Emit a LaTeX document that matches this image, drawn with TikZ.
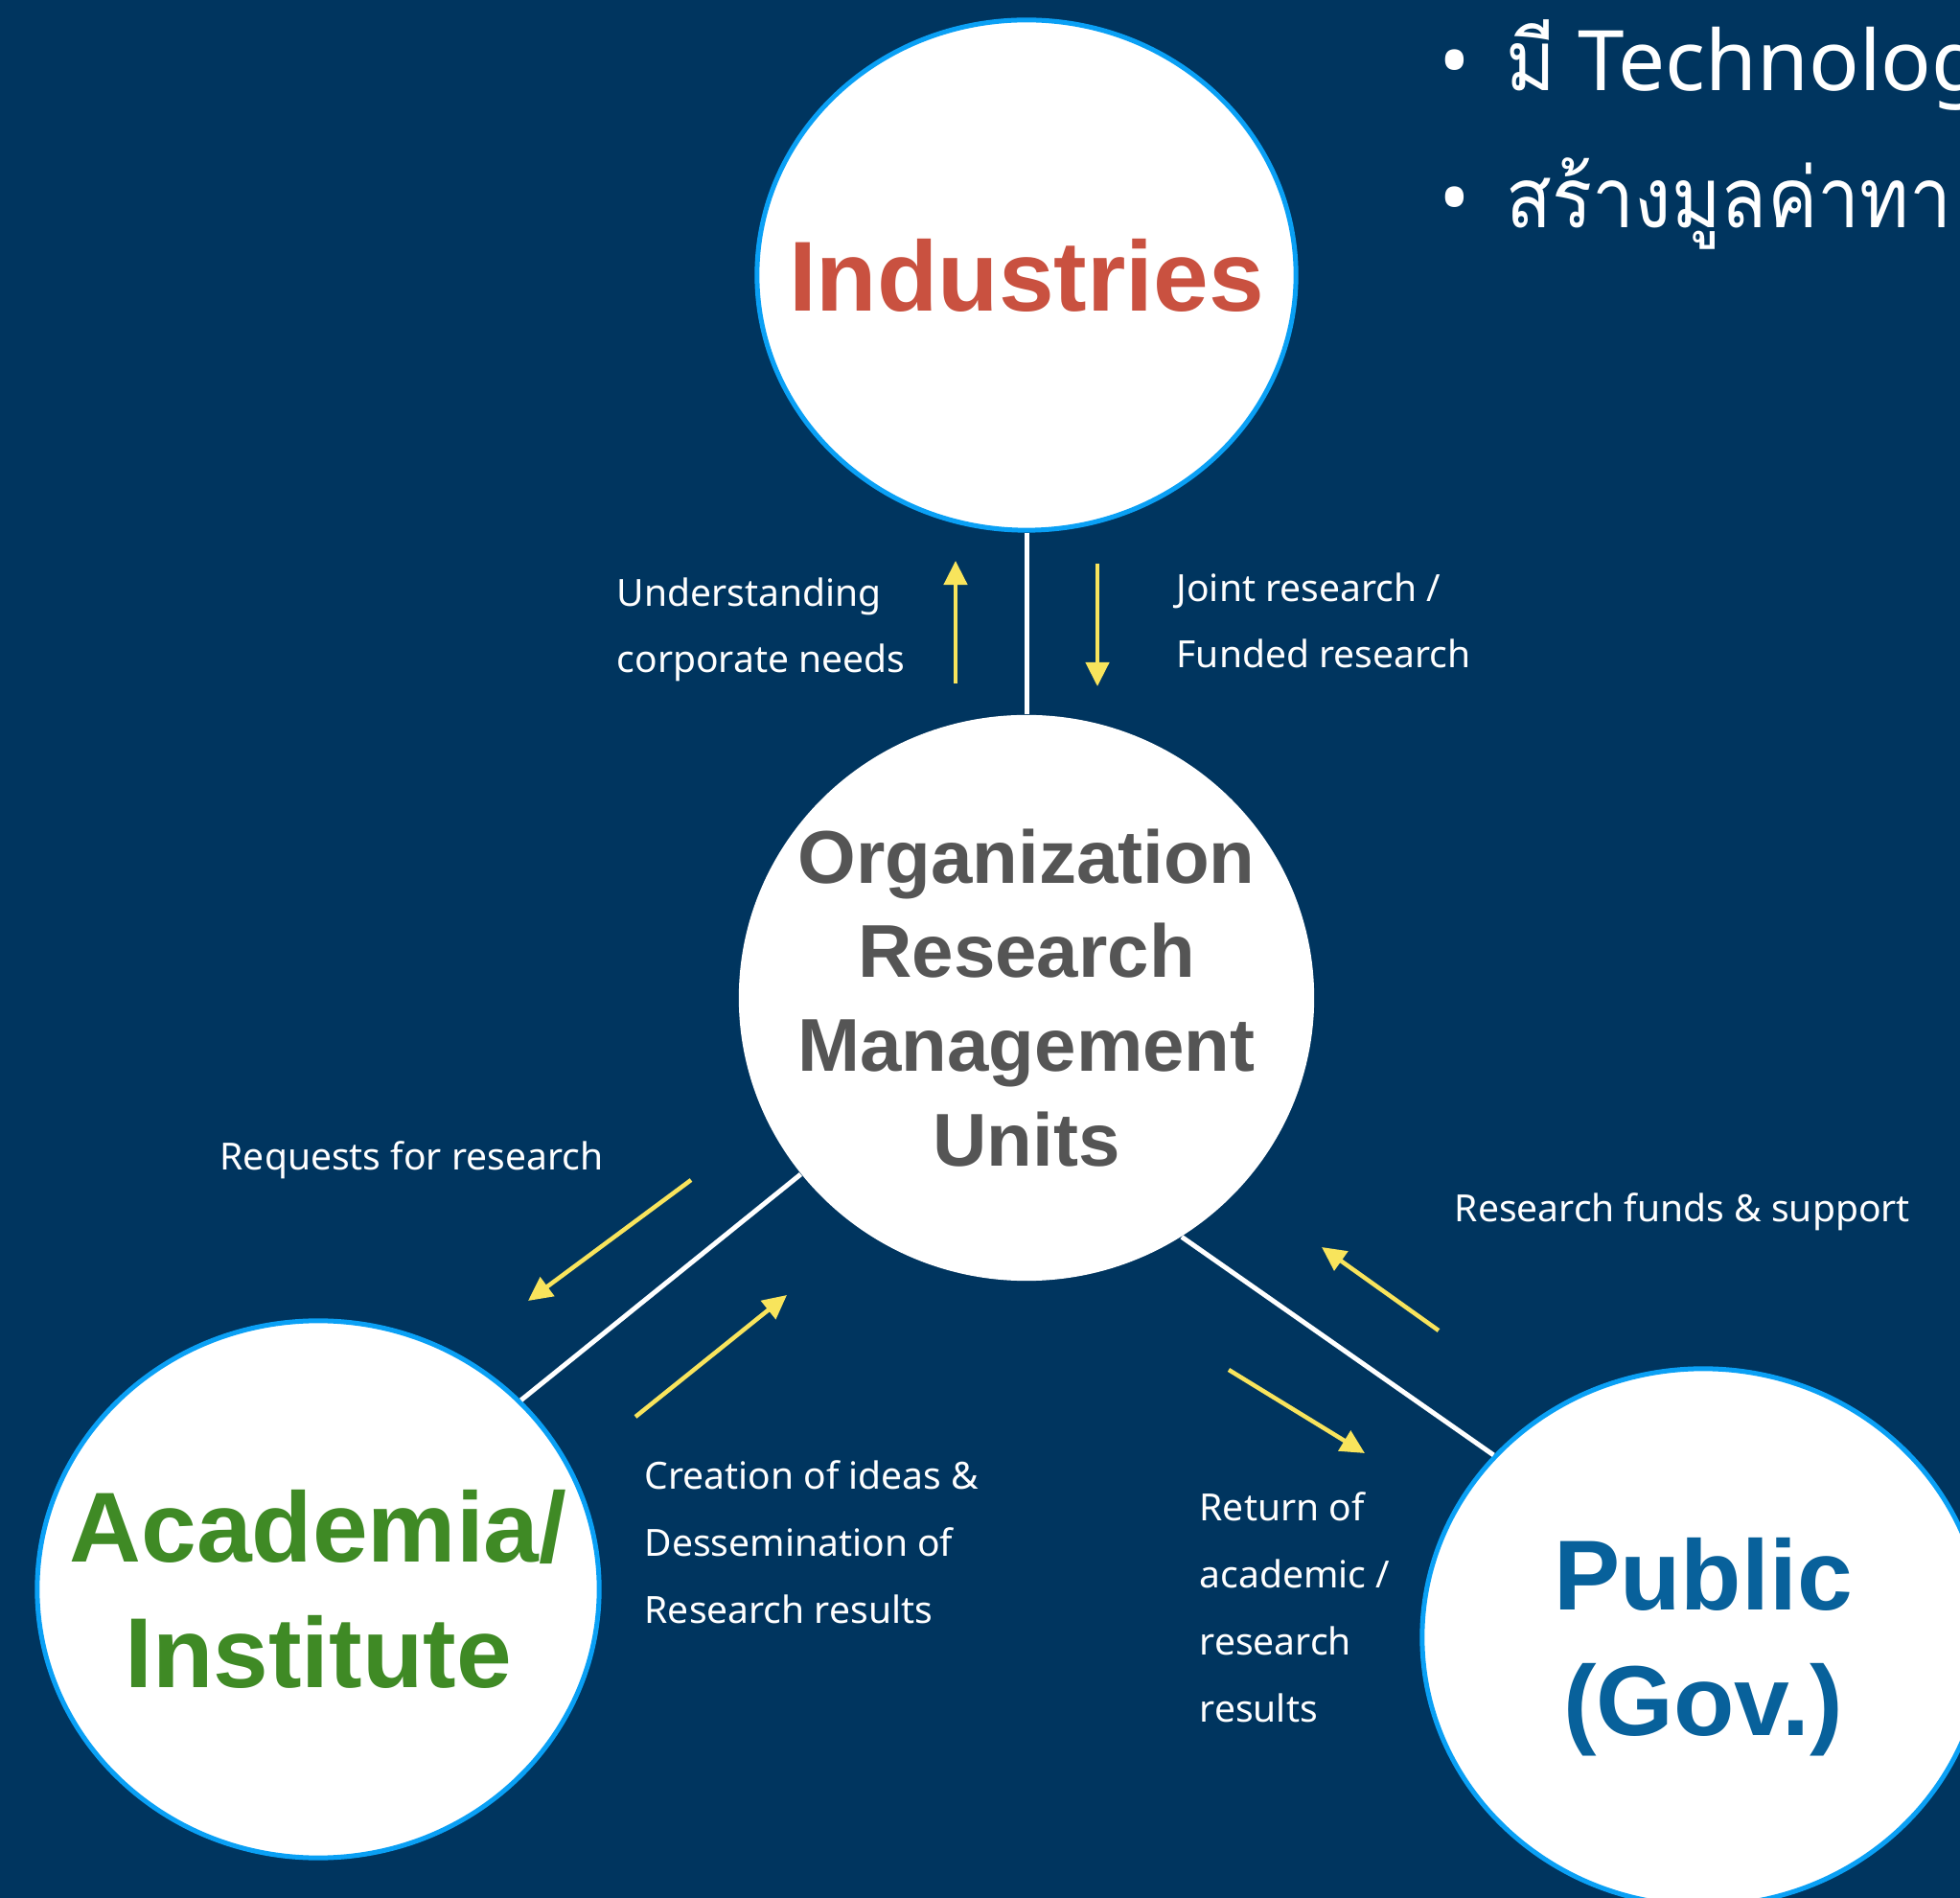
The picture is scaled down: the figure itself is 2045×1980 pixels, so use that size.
\documentclass[tikz,border=0pt]{standalone}
\usepackage{xcolor}
\usepackage{fontspec}
\setmainfont{Noto Sans}
\newfontfamily\headfont{Liberation Sans}
\newfontfamily\thaifont[Script=Thai, FakeStretch=0.9]{Loma}
\usepackage{tikz}
\usetikzlibrary{arrows.meta,positioning,shapes.geometric}

\definecolor{navy}{HTML}{00355F}
\definecolor{ringblue}{HTML}{0AA0F5}
\definecolor{indred}{HTML}{C95140}
\definecolor{acadgreen}{HTML}{3F8A25}
\definecolor{pubblue}{HTML}{08619B}
\definecolor{hubgray}{HTML}{555555}
\definecolor{flowyellow}{HTML}{F8E45C}

\begin{document}
\begin{tikzpicture}[
  x=0.01cm, y=-0.01cm,
  party/.style={ellipse, draw=ringblue, line width=0.05cm, fill=white, inner sep=0pt, minimum width=5.86cm, minimum height=5.6cm},
  partytext/.style={align=center, inner sep=0pt, font=\headfont\bfseries\fontsize{29.5pt}{37.3pt}\selectfont},
  hub/.style={ellipse, fill=white, inner sep=0pt, minimum width=6cm, minimum height=5.9cm},
  hubtext/.style={align=center, inner sep=0pt, text=hubgray, font=\headfont\bfseries\fontsize{22.2pt}{27.9pt}\selectfont},
  tie/.style={draw=white, line width=0.05cm},
  flow/.style={draw=flowyellow, line width=0.045cm, -{Triangle[length=0.25cm, width=0.24cm]}},
  note/.style={anchor=base west, inner sep=0pt, align=left, text=white, font=\fontsize{11.1pt}{19.9pt}\selectfont},
  headline/.style={anchor=base west, inner sep=0pt, text=white, font=\fontsize{24.8pt}{30pt}\selectfont}
]
\clip (0,0) rectangle (2045,1980);
\fill[navy] (0,0) rectangle (2045,1980);

\node[party, minimum width=5.62cm, minimum height=5.32cm, label={[partytext, text=indred]center:Industries}] (ind) at (1071,287) {};
\node[hub, label={[hubtext]center:{Organization\\Research\\Management\\Units}}] (core) at (1071,1041) {};
\node[party, label={[partytext, text=acadgreen]center:{Academia/\\Institute}}] (acad) at (332,1658) {};
\node[party, label={[partytext, text=pubblue, yshift=-0.1cm]center:{Public\\(Gov.)}}] (pub) at (1777,1708) {};

\draw[tie] (ind.south) -- (core.north);
\draw[tie] (acad.43) -- (core.218);
\draw[tie] (pub.139) -- (core.303);

\coordinate (up-s) at (997,713);
\coordinate (up-e) at (997,585);
\coordinate (dn-s) at (1145,588);
\coordinate (dn-e) at (1145,716);
\coordinate (rq-s) at (721,1231);
\coordinate (rq-e) at (551,1357);
\coordinate (cr-s) at (663,1478);
\coordinate (cr-e) at (821,1351);
\coordinate (fd-s) at (1501,1388);
\coordinate (fd-e) at (1379,1301);
\coordinate (rt-s) at (1282,1429);
\coordinate (rt-e) at (1424,1516);

\draw[flow] (up-s) -- (up-e);
\draw[flow] (dn-s) -- (dn-e);
\draw[flow] (rq-s) -- (rq-e);
\draw[flow] (cr-s) -- (cr-e);
\draw[flow] (fd-s) -- (fd-e);
\draw[flow] (rt-s) -- (rt-e);

\node[note] (needs) at (643,702) {Understanding\\corporate needs};
\node[note] (joint) at (1227,697) {Joint research /\\Funded research};
\node[note] (requests) at (229,1221) {Requests for research};
\node[note] (creation) at (672,1693) {Creation of ideas \&\\Dessemination of\\Research results};
\node[note] (funds) at (1517,1275) {Research funds \& support};
\node[note] (return) at (1251,1796) {Return of\\academic /\\research\\results};

\node[headline] (tech) at (1501,95) {\makebox[0.70cm][l]{•}{\thaifont มี} Technolog};
\node[headline] (value) at (1501,238) {\makebox[0.70cm][l]{•}{\thaifont สร้างมูลค่าทา}};
\end{tikzpicture}
\end{document}
